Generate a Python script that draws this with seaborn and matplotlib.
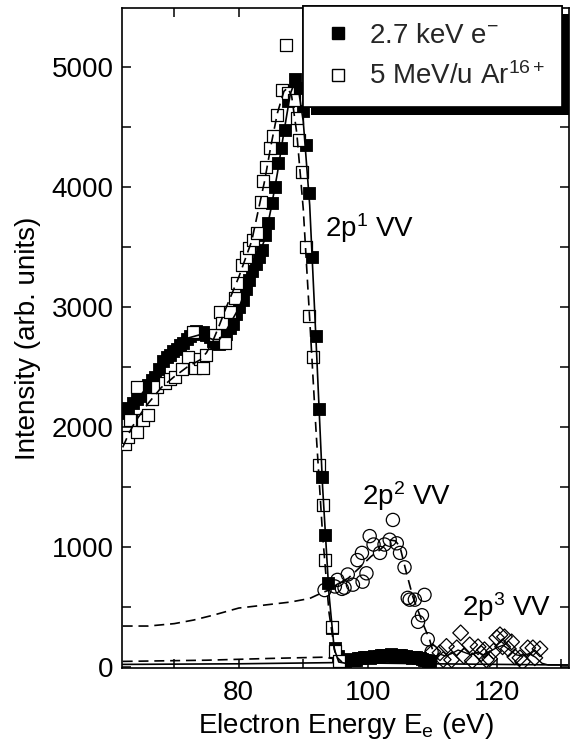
import numpy as np
import pandas as pd
import matplotlib
matplotlib.use("Agg")
import matplotlib.pyplot as plt
import matplotlib.patheffects as pe
from matplotlib.lines import Line2D
from matplotlib.ticker import MultipleLocator
import seaborn as sns

# ---------------- data ----------------
# 2.7 keV electrons (filled squares)
elec_x = [62.3, 62.9, 63.6, 64.2, 64.7, 65.4, 65.9, 66.5, 67.0, 67.6, 68.2, 68.8, 69.3, 69.8,
          70.4, 70.9, 71.4, 71.9, 72.4, 72.9, 73.4, 73.9, 74.4, 75.0, 75.5, 76.0, 76.5, 77.0,
          77.5, 78.1, 78.6, 79.1, 79.6, 80.1, 80.6, 81.1, 81.6, 82.1, 82.6, 83.1, 83.6, 84.1,
          84.6, 85.1, 85.6, 86.1, 86.6, 87.1, 87.6, 88.1, 88.7, 89.3, 89.9, 90.4, 90.9, 91.4,
          91.9, 92.4, 92.9, 93.4, 93.9, 94.4, 94.9, 95.4,
          95.8, 96.1, 96.4, 96.7, 97.0, 97.3, 97.6, 97.9, 98.2, 98.5, 98.8, 99.1, 99.4, 99.7,
          100.0, 100.3, 100.6, 100.9, 101.2, 101.5, 101.8, 102.1, 102.4, 102.7, 103.0, 103.3,
          103.6, 103.9, 104.2, 104.5, 104.8, 105.1, 105.4, 105.7, 106.0, 106.3, 106.6, 106.9,
          107.2, 107.5, 107.8, 108.1, 108.4, 108.7, 109.0, 109.3, 109.6]
elec_y = [2120, 2160, 2200, 2230, 2260, 2310, 2350, 2390, 2420, 2480, 2550, 2580, 2600, 2630,
          2650, 2680, 2700, 2730, 2760, 2790, 2800, 2780, 2790, 2770, 2750, 2720, 2700, 2690,
          2720, 2780, 2830, 2860, 2940, 3000, 3060, 3150, 3230, 3300, 3360, 3420, 3480, 3600,
          3700, 3870, 4000, 4200, 4330, 4480, 4720, 4800, 4900, 4830, 4640, 4350, 3950, 3420,
          2760, 2150, 1580, 1100, 700, 320, 160, 90,
          60, 55, 50, 55, 60, 65, 60, 55, 60, 70, 75, 70, 80, 85,
          80, 75, 85, 90, 85, 80, 90, 95, 100, 95, 90, 100,
          105, 95, 90, 85, 95, 100, 90, 85, 90, 85, 80, 75,
          80, 85, 75, 70, 65, 60, 55, 50, 45]

# 5 MeV/u Ar16+ (open squares)
ion_x = [62.3, 62.8, 63.1, 64.2, 64.3, 65.1, 65.9, 66.6, 67.3, 68.5, 69.3, 70.1, 71.2, 72.1,
         72.9, 73.2, 74.0, 74.4, 75.0, 76.3, 77.1, 77.4, 77.8, 78.6, 79.4, 79.8, 80.5, 81.2,
         81.6, 82.2, 82.9, 83.4, 83.7, 84.3, 84.8, 85.3, 85.9, 86.7, 87.3, 87.6, 88.5, 89.0,
         89.3, 89.8, 90.4, 90.9, 91.5, 92.4, 93.0, 93.3, 94.4, 94.9, 95.5]
ion_y = [1860, 1920, 2060, 1960, 2330, 2060, 2100, 2230, 2330, 2370, 2400, 2420, 2480, 2580,
         2790, 2490, 2570, 2490, 2600, 2770, 2960, 2870, 2700, 2960, 3080, 3200, 3350, 3420,
         3490, 3560, 3620, 3880, 4050, 4170, 4330, 4430, 4600, 4810, 5190, 4790, 4730, 4580,
         4390, 4130, 3500, 2930, 2580, 1680, 1350, 890, 330, 130, 50]

# 2p^2 VV (open circles)
vv2_x = [93.3, 94.9, 95.3, 96.0, 96.4, 96.9, 97.7, 98.4, 99.1, 99.2, 99.8, 100.3, 100.9,
         101.9, 102.6, 103.4, 103.9, 104.5, 105.0, 105.7, 106.2, 106.5, 107.3, 107.8, 108.4,
         108.8, 109.3, 109.9]
vv2_y = [640, 670, 725, 650, 660, 770, 685, 890, 950, 710, 780, 1090, 1020,
         950, 1020, 1060, 1225, 1030, 950, 830, 575, 560, 560, 375, 430,
         600, 230, 125]

# 2p^3 VV (open diamonds)
vv3_x = [110.1, 111.2, 111.7, 112.2, 113.0, 113.8, 114.4, 114.9, 115.8, 116.2, 117.1, 117.6,
         118.1, 118.4, 118.9, 119.5, 120.0, 120.5, 120.9, 121.2, 121.8, 122.3, 122.8, 123.6,
         124.0, 124.8, 125.6, 125.9, 126.7]
vv3_y = [125, 117, 60, 170, 58, 158, 283, 90, 183, 50, 167, 110,
         142, 58, 67, 130, 242, 267, 167, 250, 150, 208, 83, 75,
         42, 158, 158, 75, 150]

# fitted curves
elec_fit_x = [62, 64, 66, 68, 70, 72, 74, 76, 77, 78, 80, 82, 84, 85, 86, 87, 88, 88.7,
              89.3, 90, 91, 92, 93, 94, 94.8, 95.5, 96.5]
elec_fit_y = [2100, 2210, 2350, 2520, 2640, 2740, 2770, 2730, 2730, 2800, 2990, 3280, 3560,
              3820, 4120, 4460, 4780, 4880, 4800, 4550, 3850, 2700, 1500, 600, 150, 40, 30]
ion_fit_x = [62, 63, 64, 66, 68, 70, 72, 74, 75, 76, 77, 78, 80, 82, 84, 85, 86, 87, 87.6,
             88.2, 89, 90, 91, 92, 93, 94, 95, 96]
ion_fit_y = [1830, 1950, 2050, 2200, 2330, 2420, 2500, 2560, 2620, 2720, 2850, 2990, 3250,
             3550, 4050, 4350, 4620, 4800, 4830, 4760, 4450, 3820, 2900, 1950, 1100, 450, 90, 40]
bg2_x = [62, 66, 70, 73, 76, 80, 84, 88, 91, 93, 94]
bg2_y = [340, 340, 360, 390, 430, 490, 515, 540, 570, 620, 640]
vv2_fit_x = [94, 95.3, 97, 98.8, 100.5, 101.9, 103.4, 104.3, 105, 106, 107, 108.5, 109.6, 110.7]
vv2_fit_y = [640, 690, 740, 830, 920, 975, 1058, 1050, 1000, 783, 583, 367, 225, 20]
vv3_fit_x = [110.5, 111, 112, 113, 114, 115, 116, 117, 118, 119, 120, 121, 122, 123, 124,
             125, 126, 127, 128, 131]
vv3_fit_y = [20, 110, 90, 110, 140, 120, 100, 120, 100, 130, 160, 180, 140, 100, 90,
             110, 80, 30, 15, 15]
base_solid_x = [62, 80, 95, 110, 131]
base_solid_y = [20, 25, 35, 25, 15]
base_dash_x = [62, 75, 85, 93, 96]
base_dash_y = [45, 55, 70, 80, 60]

legend_labels = ["2.7 keV e$^{-}$", "5 MeV/u Ar$^{16+}$"]
peak_labels = ["2p$^{1}$ VV", "2p$^{2}$ VV", "2p$^{3}$ VV"]
xlabel = "Electron Energy E$_{\\mathregular{e}}$ (eV)"
ylabel = "Intensity (arb. units)"

# ---------------- style ----------------
sns.set_theme(style="ticks")
plt.rcParams["font.family"] = ["Liberation Sans", "DejaVu Sans"]
plt.rcParams["mathtext.fontset"] = "custom"
plt.rcParams["mathtext.rm"] = "Liberation Sans"
plt.rcParams["mathtext.it"] = "Liberation Sans:italic"
plt.rcParams["mathtext.bf"] = "Liberation Sans:bold"
FS = 20

fig = plt.figure(figsize=(5.70, 7.47), dpi=100)
ax = fig.add_axes([122 / 570, 1 - 668 / 747, (569 - 122) / 570, (668 - 8) / 747])

K = "black"
LW = 1.2
DASH = [6, 3.5]


def line(x, y, dashed=False, lw=LW, z=2):
    sns.lineplot(x=x, y=y, ax=ax, color=K, linewidth=lw, sort=False,
                 estimator=None, zorder=z, legend=False)
    ln = ax.lines[-1]
    if dashed:
        ln.set_dashes(DASH)
    return ln


line(base_solid_x, base_solid_y)
line(base_dash_x, base_dash_y, dashed=True)
line(bg2_x, bg2_y, dashed=True)
line(vv2_fit_x, vv2_fit_y, dashed=True)
line(vv3_fit_x, vv3_fit_y, lw=1.0)

MS = 8.5
sns.scatterplot(x=elec_x, y=elec_y, ax=ax, marker="s", s=MS**2, color=K,
                edgecolor=K, linewidth=0.6, zorder=3, legend=False)
sns.scatterplot(x=ion_x, y=ion_y, ax=ax, marker="s", s=MS**2, color="white",
                edgecolor=K, linewidth=0.9, zorder=4, legend=False)
sns.scatterplot(x=vv2_x, y=vv2_y, ax=ax, marker="o", s=9.5**2, facecolor="none",
                edgecolor=K, linewidth=0.9, zorder=4, legend=False)
ax.collections[-1].set_facecolor("none")
sns.scatterplot(x=vv3_x, y=vv3_y, ax=ax, marker="D", s=8**2, facecolor="none",
                edgecolor=K, linewidth=0.9, zorder=4, legend=False)
ax.collections[-1].set_facecolor("none")

line(elec_fit_x, elec_fit_y, z=5)
line(ion_fit_x, ion_fit_y, dashed=True, z=5)

# axes
ax.set_xlim(61.9, 131.2)
ax.set_ylim(-10, 5495)
ax.xaxis.set_major_locator(MultipleLocator(20))
ax.xaxis.set_minor_locator(MultipleLocator(10))
ax.yaxis.set_major_locator(MultipleLocator(1000))
ax.yaxis.set_minor_locator(MultipleLocator(500))
ax.tick_params(which="both", direction="in", top=True, right=True, length=6.5,
               width=1.1, color=K)
ax.tick_params(axis="both", which="major", labelsize=FS, labelcolor=K)
ax.tick_params(axis="x", which="major", pad=9)
ax.tick_params(axis="y", which="major", pad=6)
for s in ax.spines.values():
    s.set_linewidth(1.2)
    s.set_color(K)

ax.set_xlabel(xlabel, fontsize=FS, color=K, labelpad=3)
ax.set_ylabel(ylabel, fontsize=FS, color=K, labelpad=8)

ax.text(93.3, 3658, peak_labels[0], fontsize=FS, va="center", ha="left", color=K)
ax.text(99.1, 1425, peak_labels[1], fontsize=FS, va="center", ha="left", color=K)
ax.text(114.6, 500, peak_labels[2], fontsize=FS, va="center", ha="left", color=K)

handles = [
    Line2D([], [], ls="none", marker="s", markersize=9, color=K, markeredgecolor=K),
    Line2D([], [], ls="none", marker="s", markersize=9, markerfacecolor="white",
           markeredgecolor=K, markeredgewidth=1.0),
]
leg = ax.legend(handles, legend_labels, loc="upper right", bbox_to_anchor=(0.984, 1.003),
                borderaxespad=0, fontsize=FS, frameon=True, fancybox=False,
                framealpha=1, edgecolor=K, borderpad=0.6, handlelength=1.3,
                handletextpad=0.45, labelspacing=0.5)
leg.set_zorder(10)
fr = leg.get_frame()
fr.set_linewidth(1.2)
fr.set_path_effects([pe.withSimplePatchShadow(offset=(5.5, -5.5), shadow_rgbFace="black",
                                              alpha=1.0), pe.Normal()])

fig.savefig("out.png", dpi=100)
